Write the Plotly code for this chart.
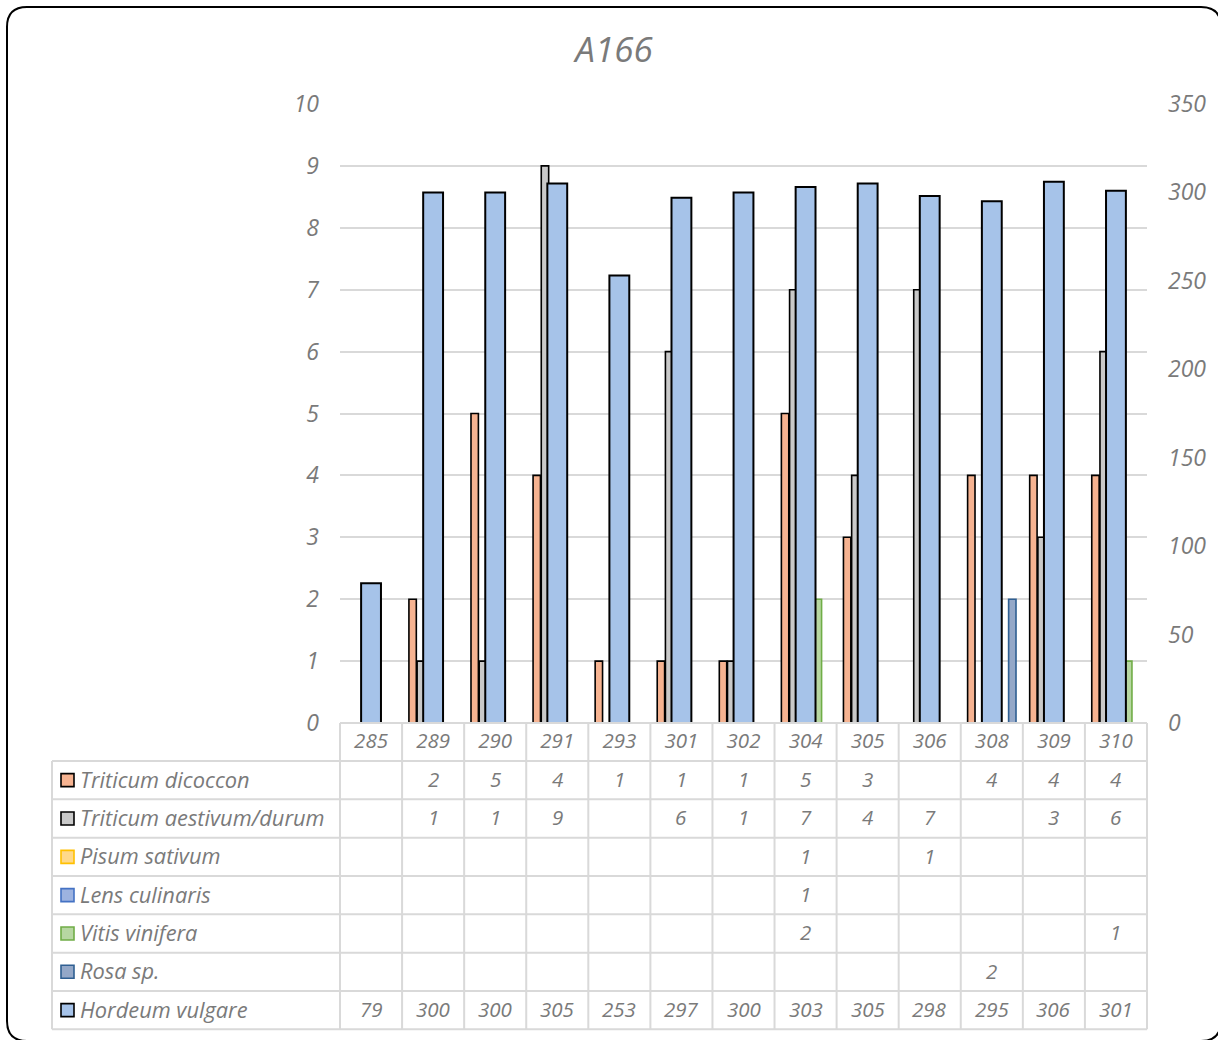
import plotly.graph_objects as go

# ---- data -------------------------------------------------------------
samples = ["285", "289", "290", "291", "293", "301", "302", "304", "305", "306", "308", "309", "310"]

triticum_dicoccon = [None, 2, 5, 4, 1, 1, 1, 5, 3, None, 4, 4, 4]
triticum_aestivum_durum = [None, 1, 1, 9, None, 6, 1, 7, 4, 7, None, 3, 6]
pisum_sativum = [None, None, None, None, None, None, None, 1, None, 1, None, None, None]
lens_culinaris = [None, None, None, None, None, None, None, 1, None, None, None, None, None]
vitis_vinifera = [None, None, None, None, None, None, None, 2, None, None, None, None, 1]
rosa_sp = [None, None, None, None, None, None, None, None, None, None, 2, None, None]
hordeum_vulgare = [79, 300, 300, 305, 253, 297, 300, 303, 305, 298, 295, 306, 301]

left_ticks = list(range(0, 11))
right_ticks = list(range(0, 351, 50))

# ---- geometry / style -------------------------------------------------
W, H = 1218, 1040
PL, PR, PT, PB = 340, 1147, 104, 723          # plot area in pixels
TABLE_LEFT = 52
ROW_H = 38.33
HEADER_BOTTOM = 761
TEXT = "#7A7A7A"
GRID = "#D9D9D9"
FONT = "Open Sans"


def px(x):
    return (x - PL) / (PR - PL)


def py(y):
    return (PB - y) / (PB - PT)


primary = [
    ("Triticum dicoccon", triticum_dicoccon, "#F6B391", "#000000"),
    ("Triticum aestivum/durum", triticum_aestivum_durum, "#C9C9C9", "#000000"),
    ("Pisum sativum", pisum_sativum, "#FFD98A", "#FFC000"),
    ("Lens culinaris", lens_culinaris, "#9DB3E0", "#4472C4"),
    ("Vitis vinifera", vitis_vinifera, "#B7D7A2", "#70AD47"),
    ("Rosa sp.", rosa_sp, "#94A8C8", "#2F5F92"),
]
secondary = ("Hordeum vulgare", hordeum_vulgare, "#A6C3E9", "#000000")

cat_px = (PR - PL) / len(samples)
pitch = 8.2 / cat_px
bar_w = 7.4 / cat_px

fig = go.Figure()

for k, (name, vals, fill, edge) in enumerate(primary):
    fig.add_trace(go.Bar(
        x=samples, y=vals, name=name,
        width=bar_w, offset=(k - 2.5) * pitch - bar_w / 2,
        marker=dict(color=fill, line=dict(color=edge, width=1.6)),
        showlegend=False,
    ))

name, vals, fill, edge = secondary
fig.add_trace(go.Bar(
    x=samples, y=vals, name=name, yaxis="y2",
    width=0.32, offset=-0.16,
    marker=dict(color=fill, line=dict(color=edge, width=2)),
    showlegend=False,
))

# ---- data table under the plot ---------------------------------------
shapes = []
line_style = dict(color=GRID, width=2)

# header row (category labels come from the x axis)
shapes.append(dict(type="line", xref="paper", yref="paper",
                   x0=px(PL), x1=px(PR), y0=py(PB), y1=py(PB), line=line_style))
n_rows = len(primary) + 1
table_bottom = HEADER_BOTTOM + n_rows * ROW_H
for r in range(n_rows + 1):
    yy = HEADER_BOTTOM + r * ROW_H
    shapes.append(dict(type="line", xref="paper", yref="paper",
                       x0=px(TABLE_LEFT), x1=px(PR), y0=py(yy), y1=py(yy), line=line_style))
shapes.append(dict(type="line", xref="paper", yref="paper",
                   x0=px(TABLE_LEFT), x1=px(TABLE_LEFT),
                   y0=py(HEADER_BOTTOM), y1=py(table_bottom), line=line_style))
for i in range(len(samples) + 1):
    xx = PL + i * cat_px
    shapes.append(dict(type="line", xref="paper", yref="paper",
                       x0=px(xx), x1=px(xx), y0=py(PB), y1=py(table_bottom), line=line_style))

cell_font = dict(family=FONT, size=20.5, color=TEXT, style="italic")
label_font = dict(family=FONT, size=21.8, color=TEXT, style="italic")
annotations = []
rows = primary + [secondary]
for r, (name, vals, fill, edge) in enumerate(rows):
    yc = HEADER_BOTTOM + (r + 0.5) * ROW_H
    shapes.append(dict(type="rect", xref="paper", yref="paper",
                       x0=px(61), x1=px(74), y0=py(yc - 6.5), y1=py(yc + 6.5),
                       fillcolor=fill, line=dict(color=edge, width=1.6)))
    annotations.append(dict(xref="paper", yref="paper", x=px(78), y=py(yc - 1),
                            xanchor="left", yanchor="middle", showarrow=False,
                            text=name, font=label_font))
    for i, v in enumerate(vals):
        if v is None:
            continue
        annotations.append(dict(xref="x", yref="paper", x=i, y=py(yc - 1),
                                xanchor="center", yanchor="middle", showarrow=False,
                                text=str(v), font=cell_font))

# rounded outer frame
fx0, fy0, fx1, fy1, rad = 7, 7, 1221, 1041, 20
frame = (
    f"M {px(fx0 + rad)},{py(fy0)} L {px(fx1 - rad)},{py(fy0)} "
    f"Q {px(fx1)},{py(fy0)} {px(fx1)},{py(fy0 + rad)} "
    f"L {px(fx1)},{py(fy1 - rad)} Q {px(fx1)},{py(fy1)} {px(fx1 - rad)},{py(fy1)} "
    f"L {px(fx0 + rad)},{py(fy1)} Q {px(fx0)},{py(fy1)} {px(fx0)},{py(fy1 - rad)} "
    f"L {px(fx0)},{py(fy0 + rad)} Q {px(fx0)},{py(fy0)} {px(fx0 + rad)},{py(fy0)} Z"
)
shapes.append(dict(type="path", xref="paper", yref="paper", path=frame,
                   line=dict(color="#000000", width=2), fillcolor="rgba(0,0,0,0)"))

tick_font = dict(family=FONT, size=23, color=TEXT, style="italic")

fig.update_layout(
    width=W, height=H,
    margin=dict(l=PL, r=W - PR, t=PT, b=H - PB, pad=0),
    paper_bgcolor="white", plot_bgcolor="white",
    barmode="overlay",
    title=dict(text="A166", xref="container", yref="container",
               x=614 / W, y=1 - 50 / H, xanchor="center", yanchor="middle",
               font=dict(family=FONT, size=35, color=TEXT, style="italic")),
    xaxis=dict(type="category", categoryorder="array", categoryarray=samples,
               range=[-0.5, len(samples) - 0.5],
               showgrid=False, zeroline=False, showline=False,
               ticks="", tickfont=cell_font, ticklabelstandoff=3),
    yaxis=dict(range=[0, 10], tickvals=left_ticks, showgrid=True,
               gridcolor=GRID, gridwidth=1.5, zeroline=False, showline=False,
               ticks="", tickfont=tick_font, ticklabelstandoff=20),
    yaxis2=dict(range=[0, 350], tickvals=right_ticks, overlaying="y", side="right",
                showgrid=False, zeroline=False, showline=False,
                ticks="", tickfont=tick_font, ticklabelstandoff=20),
    shapes=shapes,
    annotations=annotations,
)

fig.write_html("out.html")
